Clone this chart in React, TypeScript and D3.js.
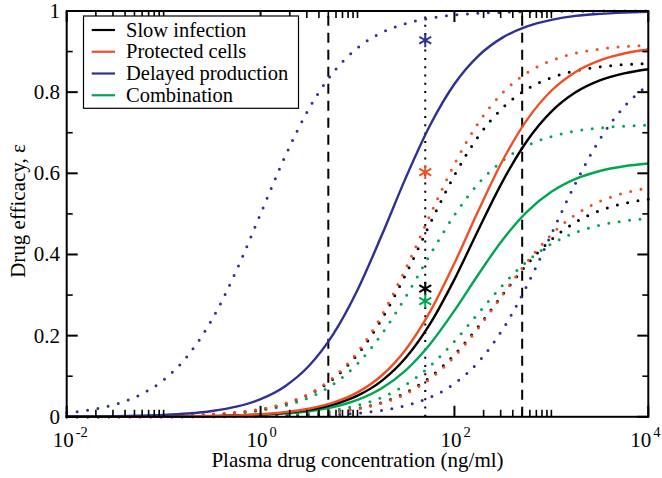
import * as d3 from 'd3';

const W = 662, H = 478;
const X0 = 66.7, X1 = 648.3, Y0 = 416.8, Y1 = 11;

const BLACK = '#000000';
const RED = '#ef4f26';
const BLUE = '#2e3192';
const GREEN = '#00a651';

// plasma drug concentration, ng/ml (log-spaced samples)
const conc = [0.01, 0.01778, 0.03162, 0.05623, 0.1, 0.1778, 0.3162, 0.5623, 1, 1.778, 3.162, 5.623,
  10, 17.78, 31.62, 56.23, 100, 177.8, 316.2, 562.3, 1000, 1778, 3162, 5623, 10000];

// solid curves
const blackSolid = [0.0001, 0.0001, 0.0002, 0.0003, 0.0006, 0.001, 0.0017, 0.0031, 0.0055, 0.0098, 0.0172, 0.0301,
  0.0521, 0.0886, 0.146, 0.2296, 0.3387, 0.4623, 0.5815, 0.6803, 0.752, 0.7995, 0.8289, 0.8464, 0.8566];
const redSolid = [0.0001, 0.0001, 0.0002, 0.0004, 0.0006, 0.0011, 0.002, 0.0036, 0.0064, 0.0113, 0.0199, 0.0348,
  0.0601, 0.1018, 0.1667, 0.2597, 0.3785, 0.5095, 0.6328, 0.7324, 0.8035, 0.8499, 0.8784, 0.8953, 0.9051];
const blueSolid = [0.0005, 0.0008, 0.0014, 0.0026, 0.0045, 0.008, 0.0142, 0.025, 0.0435, 0.0749, 0.1258, 0.2038,
  0.3127, 0.4472, 0.59, 0.719, 0.82, 0.89, 0.935, 0.962, 0.978, 0.988, 0.993, 0.996, 0.998];
const greenSolid = [0, 0.0001, 0.0001, 0.0003, 0.0005, 0.0008, 0.0014, 0.0025, 0.0044, 0.0078, 0.0138, 0.0241,
  0.0417, 0.0705, 0.1153, 0.1796, 0.2617, 0.352, 0.4369, 0.5055, 0.5543, 0.5862, 0.6058, 0.6174, 0.6241];

// dotted curves, left (more potent) and right (less potent)
const blackHigh = [0.0002, 0.0003, 0.0006, 0.001, 0.0019, 0.0033, 0.0058, 0.0103, 0.0183, 0.0319, 0.0552, 0.0935,
  0.1535, 0.2402, 0.352, 0.4767, 0.5953, 0.6921, 0.7618, 0.8075, 0.8357, 0.8525, 0.8622, 0.8678, 0.8709];
const redHigh = [0.0002, 0.0003, 0.0006, 0.0011, 0.0019, 0.0034, 0.006, 0.0107, 0.0189, 0.033, 0.0571, 0.0969,
  0.1593, 0.2497, 0.3665, 0.4976, 0.6226, 0.7253, 0.7993, 0.848, 0.878, 0.8959, 0.9063, 0.9123, 0.9156];
const blueHigh = [0.0099, 0.0175, 0.0307, 0.0532, 0.0909, 0.151, 0.2402, 0.36, 0.5, 0.64, 0.7598, 0.849,
  0.909, 0.9468, 0.9693, 0.9825, 0.9901, 0.9944, 0.9968, 0.9982, 0.999, 0.9994, 0.9997, 0.9998, 0.9999];
const greenHigh = [0.0002, 0.0003, 0.0005, 0.0009, 0.0016, 0.0028, 0.005, 0.0089, 0.0156, 0.0273, 0.0471, 0.0798,
  0.1306, 0.2035, 0.2969, 0.4, 0.497, 0.5754, 0.6315, 0.6682, 0.6907, 0.704, 0.7118, 0.7162, 0.7187];
const blackLow = [0, 0, 0.0001, 0.0001, 0.0002, 0.0004, 0.0007, 0.0012, 0.0021, 0.0037, 0.0066, 0.0116,
  0.0204, 0.0352, 0.0596, 0.0978, 0.1528, 0.2234, 0.3018, 0.3761, 0.4365, 0.4798, 0.5082, 0.5257, 0.5361];
const redLow = [0, 0, 0.0001, 0.0001, 0.0002, 0.0003, 0.0006, 0.0011, 0.002, 0.0035, 0.0062, 0.011,
  0.0192, 0.0333, 0.0567, 0.0937, 0.1481, 0.2197, 0.3017, 0.3819, 0.449, 0.4983, 0.531, 0.5514, 0.5636];
const blueLow = [0, 0, 0, 0.0001, 0.0001, 0.0002, 0.0003, 0.0005, 0.0009, 0.0016, 0.0028, 0.005,
  0.0089, 0.0157, 0.0276, 0.0479, 0.0818, 0.1358, 0.2162, 0.324, 0.45, 0.576, 0.684, 0.764, 0.818];
const greenLow = [0, 0.0001, 0.0001, 0.0002, 0.0003, 0.0005, 0.0009, 0.0017, 0.003, 0.0052, 0.0092, 0.0162,
  0.0281, 0.0478, 0.0791, 0.1251, 0.1861, 0.2562, 0.3251, 0.3831, 0.4258, 0.4543, 0.4721, 0.4827, 0.4888];

const legendLabels = ['Slow infection', 'Protected cells', 'Delayed production', 'Combination'];
const legendColors = [BLACK, RED, BLUE, GREEN];

const dashedConc = [5, 500];
const dottedConc = [50];
const starValues = [0.928, 0.603, 0.316, 0.285];
const starColors = [BLUE, RED, BLACK, GREEN];

const xTickExps = [-2, 0, 2, 4];
const yTicks = [0, 0.2, 0.4, 0.6, 0.8, 1];
const yTickLabels = ['0', '0.2', '0.4', '0.6', '0.8', '1'];
const yMinor = [0.1, 0.3, 0.5, 0.7, 0.9];

const FONT = '"Liberation Serif", "Times New Roman", serif';

export default function App() {
  const x = d3.scaleLog().domain([1e-2, 1e4]).range([X0, X1]);
  const y = d3.scaleLinear().domain([0, 1]).range([Y0, Y1]);

  const line = d3.line<number>()
    .x((_, i) => x(conc[i]))
    .y((d) => y(d))
    .curve(d3.curveMonotoneX);

  const dotted = [
    { v: blackLow, c: BLACK }, { v: redLow, c: RED }, { v: greenLow, c: GREEN }, { v: blueLow, c: BLUE },
    { v: greenHigh, c: GREEN }, { v: blackHigh, c: BLACK }, { v: redHigh, c: RED }, { v: blueHigh, c: BLUE },
  ];
  const solid = [
    { v: greenSolid, c: GREEN }, { v: blackSolid, c: BLACK }, { v: redSolid, c: RED }, { v: blueSolid, c: BLUE },
  ];

  // log ticks: labelled every two decades, minors 2..10 within the first decade
  const majors = xTickExps.map((e) => Math.pow(10, e));
  const minors: number[] = [];
  majors.slice(0, -1).forEach((m) => {
    for (let k = 2; k <= 10; k++) minors.push(k * m);
  });

  const star = d3.symbol().type(d3.symbolAsterisk).size(135);

  return (
    <svg width={W} height={H} style={{ position: 'absolute', left: 0, top: 0, background: '#fff' }}
      fontFamily={FONT}>
      {/* vertical reference lines */}
      {dashedConc.map((c) => (
        <line key={c} x1={x(c)} x2={x(c)} y1={y(0)} y2={y(1)} stroke="#000" strokeWidth={2}
          strokeDasharray="10 7" />
      ))}
      {dottedConc.map((c) => (
        <line key={c} x1={x(c)} x2={x(c)} y1={y(0)} y2={y(1)} stroke="#000" strokeWidth={2}
          strokeDasharray="2 6.3" />
      ))}

      {dotted.map((s, i) => (
        <path key={'d' + i} d={line(s.v) || ''} fill="none" stroke={s.c} strokeWidth={3}
          strokeLinecap="round" strokeDasharray="0 10.5" />
      ))}
      {solid.map((s, i) => (
        <path key={'s' + i} d={line(s.v) || ''} fill="none" stroke={s.c} strokeWidth={2.4} />
      ))}

      {starValues.map((v, i) => (
        <path key={'st' + i} d={star() || ''} transform={`translate(${x(dottedConc[0])},${y(v)})`}
          fill="none" stroke={starColors[i]} strokeWidth={2} />
      ))}

      {/* ticks */}
      {majors.map((m) => (
        <g key={'xm' + m}>
          <line x1={x(m)} x2={x(m)} y1={Y0} y2={Y0 - 11} stroke="#000" strokeWidth={2} />
          <line x1={x(m)} x2={x(m)} y1={Y1} y2={Y1 + 11} stroke="#000" strokeWidth={2} />
        </g>
      ))}
      {minors.map((m) => (
        <g key={'xn' + m}>
          <line x1={x(m)} x2={x(m)} y1={Y0} y2={Y0 - 7} stroke="#000" strokeWidth={1.6} />
          <line x1={x(m)} x2={x(m)} y1={Y1} y2={Y1 + 7} stroke="#000" strokeWidth={1.6} />
        </g>
      ))}
      {yTicks.map((t) => (
        <g key={'ym' + t}>
          <line x1={X0} x2={X0 + 11} y1={y(t)} y2={y(t)} stroke="#000" strokeWidth={2} />
          <line x1={X1} x2={X1 - 11} y1={y(t)} y2={y(t)} stroke="#000" strokeWidth={2} />
        </g>
      ))}
      {yMinor.map((t) => (
        <g key={'yn' + t}>
          <line x1={X0} x2={X0 + 6} y1={y(t)} y2={y(t)} stroke="#000" strokeWidth={1.6} />
          <line x1={X1} x2={X1 - 6} y1={y(t)} y2={y(t)} stroke="#000" strokeWidth={1.6} />
        </g>
      ))}

      <rect x={X0} y={Y1} width={X1 - X0} height={Y0 - Y1} fill="none" stroke="#000" strokeWidth={2} />

      {/* tick labels: "10" plus a raised exponent; the last one is nudged in from the edge */}
      {xTickExps.map((e, i) => {
        const cx = x(majors[i]) - (i === xTickExps.length - 1 ? 4 : 0);
        return (
          <g key={'xl' + e}>
            <text x={cx + 7} y={446.5} fontSize={21} textAnchor="end" fill="#000">10</text>
            <text x={cx + 9} y={436.5} fontSize={14.5} textAnchor="start" fill="#000">
              {e < 0 ? '-' + Math.abs(e) : String(e)}
            </text>
          </g>
        );
      })}
      {yTicks.map((t, i) => (
        <text key={'yl' + t} x={60} y={y(t) + 7} fontSize={21} textAnchor="end" fill="#000">
          {yTickLabels[i]}
        </text>
      ))}

      {/* axis titles */}
      <text x={(X0 + X1) / 2} y={466.5} fontSize={21} textAnchor="middle" fill="#000">
        Plasma drug concentration (ng/ml)
      </text>
      <text transform={`translate(25,211) rotate(-90)`} fontSize={21} textAnchor="middle" fill="#000">
        Drug efficacy, ε
      </text>

      {/* legend */}
      <rect x={83.5} y={16} width={215} height={92.3} fill="#fff" stroke="#000" strokeWidth={1.2} />
      {legendLabels.map((lab, i) => {
        const base = 36.5 + i * 21.75;
        return (
          <g key={lab}>
            <line x1={91.7} x2={115} y1={base - 6.5} y2={base - 6.5} stroke={legendColors[i]} strokeWidth={2.2} />
            <text x={126} y={base} fontSize={20.5} fill="#000">{lab}</text>
          </g>
        );
      })}
    </svg>
  );
}
